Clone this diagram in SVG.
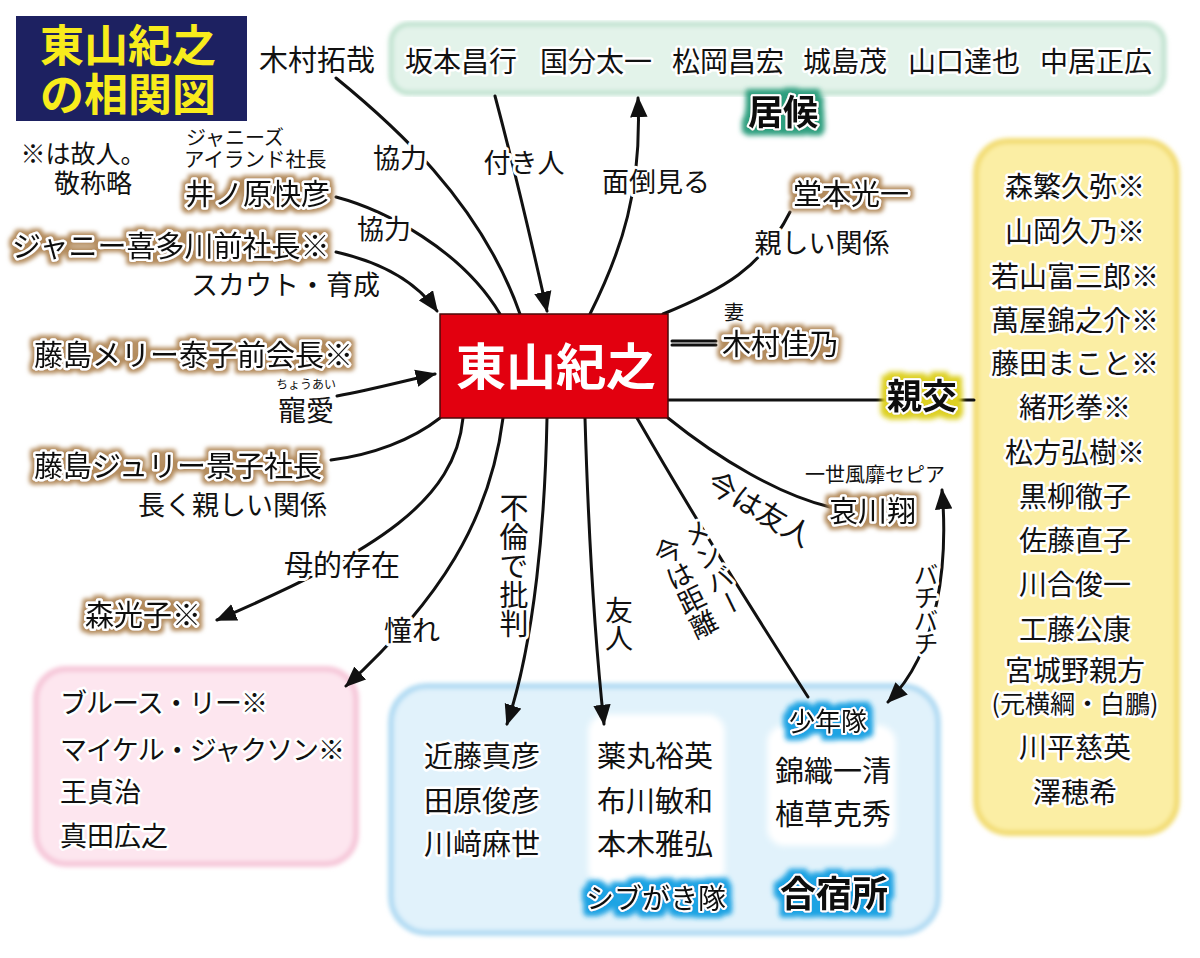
<svg xmlns="http://www.w3.org/2000/svg" width="1200" height="958" viewBox="0 0 1200 958">
<defs>
<style>
text{font-family:"Noto Sans CJK JP","Noto Sans CJK SC",sans-serif;fill:#111}
.c{fill:none;stroke:#111;stroke-width:3;stroke-linecap:round}
.a{marker-end:url(#ah)}
.h{paint-order:stroke;stroke:#fff;stroke-width:6;stroke-linejoin:round}
.lb{font-size:27px}
.nm{font-size:29px;paint-order:stroke;stroke:#fff;stroke-width:5;stroke-linejoin:round;filter:url(#fTan)}
.wn{paint-order:stroke;stroke:#fff;stroke-width:5;stroke-linejoin:round}
.v{writing-mode:vertical-rl}
.soft{filter:url(#fSoft)}
.ttl{font-size:44px;font-weight:bold;fill:#f8ec1c}
.ctr{font-size:50px;font-weight:bold;fill:#fff}
</style>
<marker id="ah" viewBox="0 0 12 10" refX="11" refY="5" markerWidth="7" markerHeight="6" orient="auto-start-reverse" markerUnits="strokeWidth"><path d="M0,0 L12,5 L0,10 z" fill="#111"/></marker>
<filter id="fSoft" x="-5%" y="-5%" width="110%" height="110%"><feGaussianBlur stdDeviation="2"/></filter>
<filter id="fTan" x="-10%" y="-40%" width="120%" height="180%">
<feMorphology in="SourceAlpha" operator="dilate" radius="3" result="d"/>
<feGaussianBlur in="d" stdDeviation="2" result="b"/>
<feFlood flood-color="#b38b5c"/>
<feComposite in2="b" operator="in" result="g"/>
<feMerge><feMergeNode in="g"/><feMergeNode in="SourceGraphic"/></feMerge>
</filter>
<filter id="fGreen" x="-30%" y="-40%" width="160%" height="180%">
<feMorphology in="SourceAlpha" operator="dilate" radius="5" result="d"/>
<feGaussianBlur in="d" stdDeviation="2.5" result="b"/>
<feFlood flood-color="#2f9f7f"/>
<feComposite in2="b" operator="in" result="g"/>
<feMerge><feMergeNode in="g"/><feMergeNode in="SourceGraphic"/></feMerge>
</filter>
<filter id="fYellow" x="-30%" y="-40%" width="160%" height="180%">
<feMorphology in="SourceAlpha" operator="dilate" radius="5" result="d"/>
<feGaussianBlur in="d" stdDeviation="2.5" result="b"/>
<feFlood flood-color="#ddd022"/>
<feComposite in2="b" operator="in" result="g"/>
<feMerge><feMergeNode in="g"/><feMergeNode in="SourceGraphic"/></feMerge>
</filter>
<filter id="fBlue" x="-30%" y="-40%" width="160%" height="180%">
<feMorphology in="SourceAlpha" operator="dilate" radius="5" result="d"/>
<feGaussianBlur in="d" stdDeviation="2.5" result="b"/>
<feFlood flood-color="#1ea3e3"/>
<feComposite in2="b" operator="in" result="g"/>
<feMerge><feMergeNode in="g"/><feMergeNode in="SourceGraphic"/></feMerge>
</filter>
</defs>
<rect width="1200" height="958" fill="#fff"/>

<!-- group boxes -->
<g id="box-isoro">
<rect class="soft" x="391" y="24" width="773" height="69" rx="18" fill="#e3f3ea" stroke="#bfe2cf" stroke-width="5"/>
<g font-size="28" class="wn">
<text x="405" y="72">坂本昌行</text>
<text x="540" y="72">国分太一</text>
<text x="672" y="72">松岡昌宏</text>
<text x="803" y="72">城島茂</text>
<text x="908" y="72">山口達也</text>
<text x="1040" y="72">中居正広</text>
</g>
<text x="783" y="125" font-size="35" font-weight="bold" text-anchor="middle" paint-order="stroke" stroke="#fff" stroke-width="4" stroke-linejoin="round" filter="url(#fGreen)">居候</text>
</g>

<g id="box-shinko">
<rect class="soft" x="976" y="141" width="201" height="692" rx="32" fill="#fbeea4" stroke="#f2dc72" stroke-width="6"/>
<g font-size="28" text-anchor="middle" class="wn">
<text x="1075" y="197">森繁久弥※</text>
<text x="1075" y="242">山岡久乃※</text>
<text x="1075" y="287">若山富三郎※</text>
<text x="1075" y="331">萬屋錦之介※</text>
<text x="1075" y="374">藤田まこと※</text>
<text x="1075" y="418">緒形拳※</text>
<text x="1075" y="463">松方弘樹※</text>
<text x="1075" y="507">黒柳徹子</text>
<text x="1075" y="551">佐藤直子</text>
<text x="1075" y="595">川合俊一</text>
<text x="1075" y="640">工藤公康</text>
<text x="1075" y="681">宮城野親方</text>
<text x="1075" y="713" font-size="25">(元横綱・白鵬)</text>
<text x="1075" y="758">川平慈英</text>
<text x="1075" y="803">澤穂希</text>
</g>
</g>

<g id="box-akogare">
<rect class="soft" x="36" y="669" width="320" height="195" rx="30" fill="#fde6ef" stroke="#f6c7d9" stroke-width="6"/>
<g font-size="27" class="wn">
<text x="60" y="713" textLength="208" lengthAdjust="spacing">ブルース・リー※</text>
<text x="60" y="760" textLength="285" lengthAdjust="spacing">マイケル・ジャクソン※</text>
<text x="60" y="802">王貞治</text>
<text x="60" y="846">真田広之</text>
</g>
</g>

<g id="box-gasshukujo">
<rect class="soft" x="391" y="686" width="547" height="247" rx="36" fill="#e1f2fb" stroke="#b2dbf3" stroke-width="6"/>
<rect class="soft" x="588" y="714" width="137" height="172" rx="18" fill="#fff" stroke="#eef8fd" stroke-width="4"/>
<rect class="soft" x="767" y="725" width="129" height="121" rx="18" fill="#fff" stroke="#eef8fd" stroke-width="4"/>
<g font-size="29" class="wn">
<text x="424" y="767">近藤真彦</text>
<text x="424" y="812">田原俊彦</text>
<text x="424" y="855">川﨑麻世</text>
<text x="597" y="767">薬丸裕英</text>
<text x="597" y="812">布川敏和</text>
<text x="597" y="855">本木雅弘</text>
<text x="775" y="782">錦織一清</text>
<text x="775" y="825">植草克秀</text>
</g>
<text x="828" y="731" font-size="26" text-anchor="middle" paint-order="stroke" stroke="#fff" stroke-width="4" stroke-linejoin="round" filter="url(#fBlue)">少年隊</text>
<text x="656" y="909" font-size="28" text-anchor="middle" paint-order="stroke" stroke="#fff" stroke-width="4" stroke-linejoin="round" filter="url(#fBlue)">シブがき隊</text>
<text x="834" y="907" font-size="36" font-weight="bold" text-anchor="middle" paint-order="stroke" stroke="#fff" stroke-width="4" stroke-linejoin="round" filter="url(#fBlue)">合宿所</text>
</g>

<!-- connectors -->
<g id="connectors">
<path class="c" d="M336,78 C390,122 480,200 520,314"/>
<path class="c" d="M336,197 C385,210 462,250 500,314"/>
<path class="c a" d="M336,252 C380,262 415,280 437,311"/>
<path class="c a" d="M495,96 Q520,190 547,311"/>
<path class="c a" d="M590,314 C622,250 642,190 638,98"/>
<path class="c" d="M663,314 C722,290 762,268 790,212"/>
<path class="c" d="M672,341 L716,341 M672,345 L716,345" stroke-width="1.6"/>
<path class="c" d="M668,400 L886,400" stroke-width="2.6"/>
<path class="c" d="M958,400 L974,400" stroke-width="2.6"/>
<path class="c a" d="M337,396 C370,390 400,382 435,374"/>
<path class="c" d="M331,460 C372,455 412,440 440,418"/>
<path class="c a" d="M463,418 C455,500 380,550 217,620"/>
<path class="c a" d="M503,418 C490,520 440,600 346,686"/>
<path class="c a" d="M547,418 C545,520 535,640 507,724"/>
<path class="c a" d="M585,418 C588,520 595,640 604,724"/>
<path class="c" d="M637,418 C690,510 752,610 808,697"/>
<path class="c" d="M668,418 C720,460 780,495 830,507"/>
<path class="c a" style="marker-start:url(#ah)" d="M942,490 C948,560 940,650 888,702"/>
</g>

<!-- connector labels -->
<g id="edge-labels" class="lb">
<text class="h" x="400" y="168" text-anchor="middle">協力</text>
<text class="h" x="384" y="239" text-anchor="middle">協力</text>
<text class="h" x="524" y="173" text-anchor="middle">付き人</text>
<text class="h" x="656" y="192" text-anchor="middle">面倒見る</text>
<text class="h" x="822" y="253" text-anchor="middle">親しい関係</text>
<text class="h" x="380" y="295" text-anchor="end">スカウト・育成</text>
<text x="306" y="389" font-size="12" text-anchor="middle">ちょうあい</text>
<text class="h" x="306" y="421" font-size="28" text-anchor="middle">寵愛</text>
<text class="h" x="327" y="515" text-anchor="end">長く親しい関係</text>
<text class="h" x="342" y="576" font-size="29" text-anchor="middle">母的存在</text>
<text class="h" x="412" y="641" font-size="28" text-anchor="middle">憧れ</text>
<text class="h v" x="514" y="493" font-size="29">不倫で批判</text>
<text class="h v" x="619" y="596" font-size="28">友人</text>
<text class="h v" x="691" y="521" font-size="26" transform="rotate(-26 691 521)">メンバー</text>
<text class="h v" x="662" y="539" font-size="27" transform="rotate(-26 662 539)">今は距離</text>
<text class="h" x="761" y="507" font-size="29" text-anchor="middle" dominant-baseline="central" transform="rotate(31 761 507)">今は友人</text>
<text class="h v" x="926" y="562" font-size="25" letter-spacing="-2">バチバチ</text>
</g>

<!-- nodes -->
<g id="title">
<rect x="16" y="16" width="231" height="105" fill="#1d2161"/>
<text class="ttl" x="128" y="62" text-anchor="middle">東山紀之</text>
<text class="ttl" x="128" y="111" text-anchor="middle">の相関図</text>
</g>
<g id="note">
<text x="83" y="163" font-size="25" text-anchor="middle">※は故人。</text>
<text x="93" y="193" font-size="26" text-anchor="middle">敬称略</text>
</g>
<g id="center">
<rect x="440" y="314" width="228" height="104" fill="#e2000f" stroke="#4a0a0a" stroke-width="1.5"/>
<text class="ctr" x="556" y="385" text-anchor="middle">東山紀之</text>
</g>
<g id="kimura-takuya"><text x="259" y="71" font-size="29">木村拓哉</text></g>
<g id="inohara">
<text x="186" y="145" font-size="20">ジャニーズ</text>
<text x="184" y="167" font-size="20.5">アイランド社長</text>
<text class="nm" x="185" y="205">井ノ原快彦</text>
</g>
<g id="johnny"><text class="nm" x="12" y="257">ジャニー喜多川前社長※</text></g>
<g id="mary"><text class="nm" x="34" y="366">藤島メリー泰子前会長※</text></g>
<g id="julie"><text class="nm" x="34" y="477">藤島ジュリー景子社長</text></g>
<g id="mori-mitsuko"><text class="nm" x="85" y="626">森光子※</text></g>
<g id="domoto"><text class="nm" x="793" y="205">堂本光一</text></g>
<g id="kimura-yoshino">
<text x="734" y="320" font-size="20" text-anchor="middle">妻</text>
<text class="nm" x="722" y="355">木村佳乃</text>
</g>
<g id="shinko-label"><text x="922" y="409" font-size="35" font-weight="bold" text-anchor="middle" paint-order="stroke" stroke="#fff" stroke-width="4" stroke-linejoin="round" filter="url(#fYellow)">親交</text></g>
<g id="aikawa">
<text x="875" y="482" font-size="20" text-anchor="middle">一世風靡セピア</text>
<text class="nm" x="829" y="522">哀川翔</text>
</g>
</svg>
